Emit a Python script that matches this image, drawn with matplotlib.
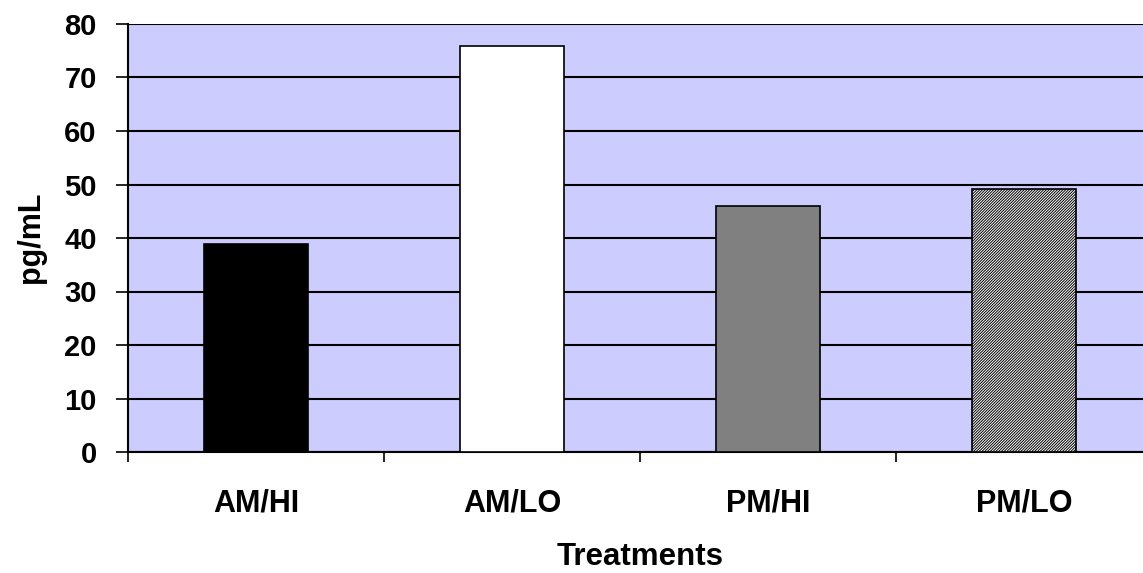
import matplotlib.pyplot as plt
import numpy as np

plt.rcParams['font.family'] = ['Liberation Sans', 'DejaVu Sans']
plt.rcParams['font.weight'] = 'bold'
plt.rcParams['hatch.linewidth'] = 0.7

treatments = ["AM/HI", "AM/LO", "PM/HI", "PM/LO"]
values = [38.8, 75.8, 46.0, 49.2]
face = ["black", "white", "#808080", "white"]
hatches = [None, None, None, "////////////"]
yticks = [0, 10, 20, 30, 40, 50, 60, 70, 80]

fig = plt.figure(figsize=(11.43, 5.73), dpi=100)
# plot area runs slightly past the right edge of the figure
ax = fig.add_axes([128 / 1143, 1 - 452 / 573, 1024 / 1143, 428 / 573])
ax.set_facecolor("#CCCCFF")

x = np.arange(len(treatments))
for i in range(len(treatments)):
    ax.bar(x[i], values[i], width=0.41, color=face[i], edgecolor="black",
           linewidth=1.2, hatch=hatches[i], zorder=3)

ax.set_ylim(0, 80)
ax.set_xlim(-0.5, 3.5)
ax.set_yticks(yticks)
ax.yaxis.grid(True, color="black", linewidth=1.5, zorder=1)
ax.set_axisbelow(True)

# category labels centred, tick marks between categories
ax.set_xticks(np.arange(-0.5, 4, 1))
ax.set_xticklabels([])
ax.set_xticks(x, minor=True)
ax.set_xticklabels(treatments, minor=True, fontsize=22, fontweight="bold")
ax.tick_params(axis="x", which="minor", length=0, pad=26)
ax.tick_params(axis="x", which="major", length=7, width=1.2, direction="out")
ax.tick_params(axis="y", length=8.5, width=1.2, direction="out", labelsize=21, pad=14)
for lab in ax.get_yticklabels():
    lab.set_fontweight("bold")

for side in ["top", "right"]:
    ax.spines[side].set_visible(False)
ax.spines["left"].set_linewidth(1.5)
ax.spines["bottom"].set_linewidth(1.5)

ax.set_xlabel("Treatments", fontsize=22.5, fontweight="bold", va="center")
ax.xaxis.set_label_coords(512 / 1024, -(557 - 452) / 428)
ax.set_ylabel("pg/mL", fontsize=22, fontweight="bold", va="center", ha="center")
ax.yaxis.set_label_coords(-(128 - 31) / 1024, (452 - 237) / 428)

fig.savefig("out.png", dpi=100)
